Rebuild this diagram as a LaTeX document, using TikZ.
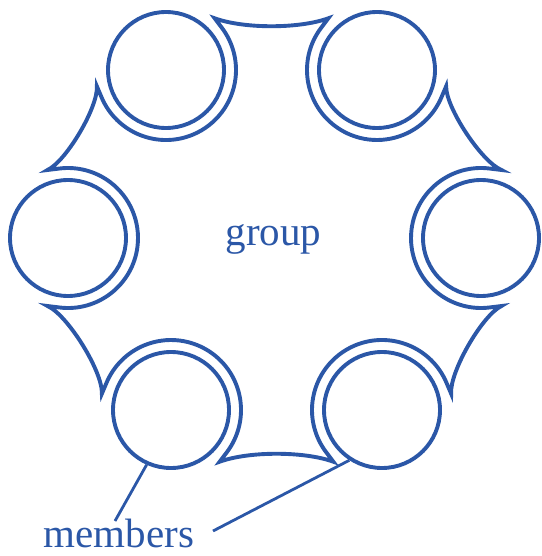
\documentclass[tikz,border=0pt]{standalone}
\usepackage{fontspec}
\setmainfont{Liberation Serif}
\usetikzlibrary{calc}
\definecolor{ink}{HTML}{2B57A7}
\begin{document}
\begin{tikzpicture}[x=1pt,y=1pt,
  member/.style={circle, draw=ink, line width=3.9pt, minimum size=116pt, inner sep=0pt},
  outline/.style={draw=ink, line width=3.9pt, line join=miter, miter limit=30},
  diag/.style={bend right=34, looseness=0.55},
  flat/.style={bend right=20, looseness=0.7},
  leader/.style={draw=ink, line width=2.8pt},
  lab/.style={text=ink, font=\fontsize{41}{48}\selectfont, anchor=base, inner sep=0pt}]
\useasboundingbox (0,-556) rectangle (541,0);
% member circles
\node[member] (l)  at (68,-238)  {};
\node[member] (tl) at (166,-70)  {};
\node[member] (tr) at (377,-70)  {};
\node[member] (r)  at (481,-238) {};
\node[member] (br) at (382,-410) {};
\node[member] (bl) at (171,-410) {};
% helper points of the group outline
\foreach \n/\f in {l/0, tl/-60, tr/-120, r/180, br/120, bl/60} {
  \coordinate (\n-s)  at ($(\n)+(\f-97:70)$);
  \coordinate (\n-e)  at ($(\n)+(\f+97:70)$);
  \coordinate (\n-qs) at ($(\n-s)+(\f-187:12)$);
  \coordinate (\n-qe) at ($(\n-e)+(\f+187:12)$);
}
% group outline
\draw[outline] (l-qs) -- (l-s) arc[start angle=-97, end angle=97, radius=70pt] -- (l-qe)
  to[diag] (tl-qs) -- (tl-s) arc[start angle=-157, end angle=37, radius=70pt] -- (tl-qe)
  to[flat] (tr-qs) -- (tr-s) arc[start angle=-217, end angle=-23, radius=70pt] -- (tr-qe)
  to[diag] (r-qs) -- (r-s) arc[start angle=83, end angle=277, radius=70pt] -- (r-qe)
  to[diag] (br-qs) -- (br-s) arc[start angle=23, end angle=217, radius=70pt] -- (br-qe)
  to[flat] (bl-qs) -- (bl-s) arc[start angle=-37, end angle=157, radius=70pt] -- (bl-qe)
  to[diag] (l-qs) -- cycle;
% labels
\node[lab] (grp) at (273.5,-245) {group};
\node[lab] (mem) at (119,-547) {members};
\coordinate (m1) at (115,-521);
\coordinate (m2) at (213,-531);
\draw[leader] (m1) -- (bl.246);
\draw[leader] (m2) -- (br.237);
\end{tikzpicture}
\end{document}
